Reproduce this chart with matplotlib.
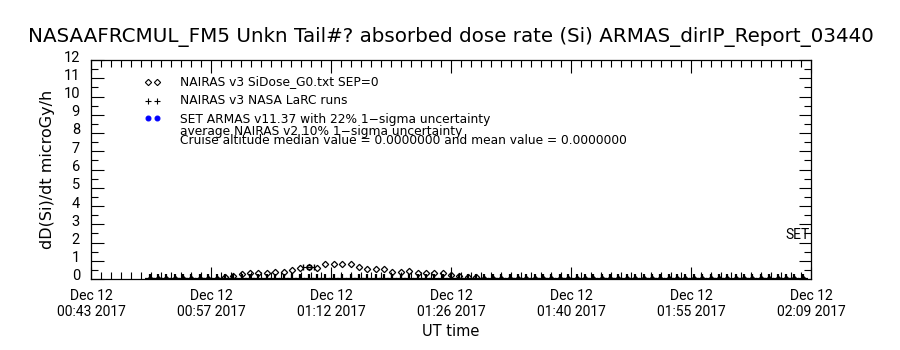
import datetime as dt
import matplotlib
matplotlib.use('Agg')
import matplotlib.pyplot as plt
import matplotlib.dates as mdates
import matplotlib.transforms as mtransforms
from matplotlib.ticker import MultipleLocator, FixedLocator

plt.rcParams['font.family'] = ['DejaVu Sans']
narrow = ['Roboto', 'DejaVu Sans']

# time axis: 7 labelled ticks, evenly spaced between the flight window ends
t_start = dt.datetime(2017, 12, 12, 0, 43, 30)
t_end = dt.datetime(2017, 12, 12, 2, 9, 30)
n_intervals = 6

# NAIRAS v3 SiDose model, one value per minute starting 00:50:30
nairas_t0 = dt.datetime(2017, 12, 12, 0, 50, 30)
nairas_dose = [
    0.0, 0.0, 0.0, 0.0, 0.0, 0.0, 0.0, 0.0, 0.0,
    0.13, 0.17, 0.26, 0.31, 0.31, 0.31, 0.37, 0.40, 0.50, 0.59,
    0.65, 0.63, 0.81, 0.81, 0.81, 0.81, 0.66, 0.57, 0.57, 0.57,
    0.39, 0.39, 0.46, 0.35, 0.35, 0.35, 0.35, 0.20, 0.17, 0.12, 0.10,
    0.0, 0.0, 0.0, 0.0, 0.0, 0.0, 0.0, 0.0, 0.0, 0.0,
    0.0, 0.0, 0.0, 0.0, 0.0, 0.0, 0.0, 0.0, 0.0, 0.0,
    0.0, 0.0, 0.0, 0.0, 0.0, 0.0, 0.0, 0.0, 0.0, 0.0,
    0.0, 0.0, 0.0, 0.0, 0.0, 0.0, 0.0, 0.0, 0.0,
]

# NASA LaRC runs (same cadence, all at zero here)
larc_dose = [0.0] * len(nairas_dose)

# NAIRAS v2 average point with 10% uncertainty
avg_time = dt.datetime(2017, 12, 12, 1, 9, 30)
avg_dose = 0.64

title = "NASAAFRCMUL_FM5 Unkn Tail#? absorbed dose rate (Si) ARMAS_dirIP_Report_03440"
legend_lines = [
    "NAIRAS v3 SiDose_G0.txt SEP=0",
    "NAIRAS v3 NASA LaRC runs",
    "SET ARMAS v11.37 with 22% 1\u2212sigma uncertainty",
    "average NAIRAS v2 10% 1\u2212sigma uncertainty",
    "Cruise altitude median value = 0.0000000 and mean value = 0.0000000",
]

times = [nairas_t0 + dt.timedelta(minutes=i) for i in range(len(nairas_dose))]

fig = plt.figure(figsize=(9, 3.5), dpi=100)
ax = fig.add_axes([91 / 900, 1 - 279 / 350, 720 / 900, 219 / 350])

ax.plot(times, nairas_dose, ls='none', marker='D', ms=3.2, mfc='none',
        mec='black', mew=0.9)
ax.plot(times, larc_dose, ls='none', marker='+', ms=7, color='black', mew=1.6)
ax.errorbar([mdates.date2num(avg_time)], [avg_dose], xerr=40 / 86400.0,
            fmt='s', ms=3, mfc='none', mec='black',
            ecolor='black', elinewidth=0.8, capsize=2)

ax.text(0.998, 2.4 / 12, "SET", transform=ax.transAxes, ha='right',
        va='center', fontsize=10, family=narrow)


# legend drawn by hand in axes pixels
def ax_xy(px, py):
    return (px - 91) / 720, (279 - py) / 219


sym_rows = [(82, 'D', 'none', 'black', 3.2), (101, '+', 'black', 'black', 5),
            (118, 'o', 'blue', 'blue', 3.5)]
for py, mk, fc, ec, ms in sym_rows:
    for px in (148, 157):
        x, y = ax_xy(px, py)
        ax.plot([x], [y], transform=ax.transAxes, marker=mk, ms=ms, mfc=fc,
                mec=ec, color=ec, mew=0.8, clip_on=False)

for py, s in zip([82, 101, 119, 131, 141], legend_lines):
    x, y = ax_xy(180, py)
    ax.text(x, y, s, transform=ax.transAxes, ha='left', va='center', fontsize=8.8)

ax.set_xlim(t_start, t_end)
ax.set_ylim(0, 12)

step = (t_end - t_start) / n_intervals
major = [t_start + k * step for k in range(n_intervals + 1)]
ax.xaxis.set_major_locator(FixedLocator(mdates.date2num(major)))
ax.xaxis.set_major_formatter(mdates.DateFormatter('%b %d\n%H:%M %Y'))
minor_step = step / 12
minor = [t_start + k * minor_step for k in range(n_intervals * 12 + 1)]
ax.xaxis.set_minor_locator(FixedLocator(mdates.date2num(minor)))

ax.yaxis.set_major_locator(MultipleLocator(1))
ax.yaxis.set_minor_locator(MultipleLocator(0.5))

ax.tick_params(which='both', direction='in', top=True, right=True, width=0.8)
ax.tick_params(which='major', length=9)
ax.tick_params(which='minor', length=5)
ax.tick_params(axis='x', pad=7)
ax.tick_params(axis='y', pad=8)
for lab in ax.get_xticklabels():
    lab.set_family(narrow)
    lab.set_fontsize(10)
for lab in ax.get_yticklabels():
    lab.set_family(narrow)
    lab.set_fontsize(10.5)
for s in ax.spines.values():
    s.set_linewidth(0.9)

ax.set_title(title, fontsize=14.3, pad=13)
ax.set_ylabel("dD(Si)/dt microGy/h", fontsize=11.5, labelpad=6)
ax.set_xlabel("UT time", fontsize=10.5, labelpad=4)

offset = mtransforms.ScaledTranslation(0, 4 / 100, fig.dpi_scale_trans)
for lab in ax.get_yticklabels():
    lab.set_transform(lab.get_transform() + offset)

fig.savefig('out.png', dpi=100)
